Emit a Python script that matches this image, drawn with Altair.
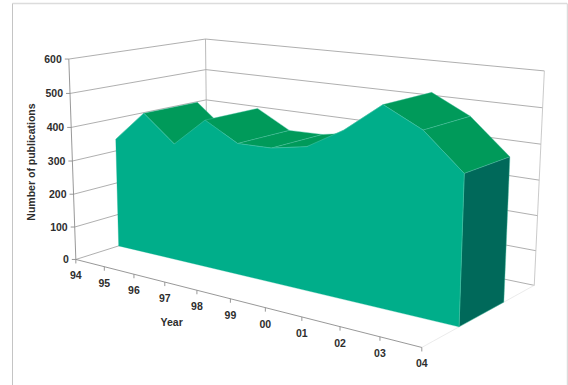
import altair as alt
import numpy as np
import pandas as pd

# Chart values
years = ["94", "95", "96", "97", "98", "99", "00", "01", "02", "03", "04"]
publications = [336, 429, 351, 435, 382, 384, 403, 462, 542, 490, 396]
value_ticks = [0, 100, 200, 300, 400, 500, 600]

# Colours
FRONT = "#00ae8a"
TOP = "#009a5a"
SIDE = "#00695a"
EDGE = "#4fc4a6"
TEXT = "#2e2e2e"

# Perspective camera: (year position, depth, value share) -> screen position
CAMERA = np.array([
    [2.64767274e+02, 1.57697991e+02, -9.42357629e+00, 7.58404742e+01],
    [2.10893371e+01, -1.44256963e+01, -2.02457906e+02, 2.59463629e+02],
    [-1.92508795e-01, 1.25212951e-01, -3.46164752e-02, 1.0],
])
DEPTH_FRONT = 0.3
DEPTH_BACK = 0.7
VALUE_MAX = 600
W, H = 568, 385


def project(u, depth, value):
    h = CAMERA @ np.array([u, depth, value / VALUE_MAX, 1.0])
    return float(h[0] / h[2]), float(h[1] / h[2])


n = len(years)
us = [i / (n - 1) for i in range(n)]

x_scale = alt.Scale(domain=[0, W], range=[0, W], nice=False, zero=False)
y_scale = alt.Scale(domain=[0, H], range=[0, H], nice=False, zero=False)
X = alt.X("x:Q", scale=x_scale, axis=None)
Y = alt.Y("y:Q", scale=y_scale, axis=None)


def segments(pairs):
    rows = [{"x": a[0], "y": a[1], "x2": b[0], "y2": b[1]} for a, b in pairs]
    return pd.DataFrame(rows)


def rules(pairs, color, width=1.0):
    return (
        alt.Chart(segments(pairs))
        .mark_rule(color=color, strokeWidth=width)
        .encode(x=X, y=Y, x2="x2:Q", y2="y2:Q")
    )


def polygons(polys, fill, stroke=EDGE, width=0.4):
    rows = []
    for k, poly in enumerate(polys):
        for i, (px, py) in enumerate(poly + poly[:1]):
            rows.append({"poly": k, "i": i, "x": px, "y": py})
    return (
        alt.Chart(pd.DataFrame(rows))
        .mark_line(fill=fill, stroke=stroke, strokeWidth=width, interpolate="linear")
        .encode(x=X, y=Y, detail="poly:N", order="i:Q")
    )


# Chart frame
frame = (
    rules([((12.5, 3.5), (567, 3.5))], "#dcdcdc", 1.6)
    + rules([((12.5, 3.5), (12.5, 385))], "#c4c4c4", 1.0)
    + rules([((567.3, 3.5), (567.3, 385))], "#d4d4d4", 1.0)
)

# Walls and gridlines
grid_pairs = []
for v in value_ticks:
    grid_pairs.append((project(0, 0, v), project(0, 1, v)))
    grid_pairs.append((project(0, 1, v), project(1, 1, v)))
grid = rules(grid_pairs, "#9a9a9a", 0.8)

back_corner = rules([(project(0, 1, 0), project(0, 1, VALUE_MAX))], "#a8a8a8", 0.8)
right_edge = rules([(project(1, 1, 0), project(1, 1, VALUE_MAX))], "#bdbdbd", 0.8)
floor_lines = rules([(project(1, 0, 0), project(1, 1, 0))], "#e2e2e2", 0.7)
value_axis = rules([(project(0, 0, 0), project(0, 0, VALUE_MAX))], "#8c8c8c", 0.9)
year_axis = rules([(project(0, 0, 0), project(1, 0, 0))], "#8c8c8c", 0.9)

# Tick marks
value_tick_pairs = []
for v in value_ticks:
    px, py = project(0, 0, v)
    value_tick_pairs.append(((px - 4, py), (px, py)))
year_tick_pairs = []
for u in us:
    px, py = project(u, 0, 0)
    year_tick_pairs.append(((px, py), (px, py + 4)))
ticks = rules(value_tick_pairs + year_tick_pairs, "#8c8c8c", 0.9)

# Top surface of the slab, only the strips that face the camera
strips = []
for i in range(n - 1):
    a = project(us[i], DEPTH_FRONT, publications[i])
    b = project(us[i + 1], DEPTH_FRONT, publications[i + 1])
    c = project(us[i + 1], DEPTH_BACK, publications[i + 1])
    d = project(us[i], DEPTH_BACK, publications[i])
    turn = (b[0] - a[0]) * (d[1] - a[1]) - (b[1] - a[1]) * (d[0] - a[0])
    if turn < 0:
        strips.append([a, b, c, d])
top = polygons(strips, TOP)

# End face for the last year
side = polygons(
    [[
        project(1, DEPTH_FRONT, publications[-1]),
        project(1, DEPTH_BACK, publications[-1]),
        project(1, DEPTH_BACK, 0),
        project(1, DEPTH_FRONT, 0),
    ]],
    SIDE,
)

# Front face of the slab
profile = [project(u, DEPTH_FRONT, p) for u, p in zip(us, publications)]
front = polygons(
    [profile + [project(1, DEPTH_FRONT, 0), project(0, DEPTH_FRONT, 0)]],
    FRONT,
    stroke=FRONT,
    width=0.3,
)
front_edge = rules(
    list(zip(profile[:-1], profile[1:])) + [(profile[-1], project(1, DEPTH_FRONT, 0))],
    EDGE,
    0.5,
)

# Tick labels and axis titles
label_style = dict(font="Liberation Sans", fontWeight="bold", fontSize=10.5, color=TEXT)

value_labels = pd.DataFrame(
    [{"x": project(0, 0, v)[0], "y": project(0, 0, v)[1], "t": str(v)} for v in value_ticks]
)
value_text = (
    alt.Chart(value_labels)
    .mark_text(align="right", baseline="middle", dx=-7, dy=1, **label_style)
    .encode(x=X, y=Y, text="t:N")
)
year_labels = pd.DataFrame(
    [{"x": project(u, 0, 0)[0], "y": project(u, 0, 0)[1], "t": t} for u, t in zip(us, years)]
)
year_text = (
    alt.Chart(year_labels)
    .mark_text(align="center", baseline="middle", dy=17, **label_style)
    .encode(x=X, y=Y, text="t:N")
)
year_title = (
    alt.Chart(pd.DataFrame({"t": ["Year"]}))
    .mark_text(align="center", baseline="middle", **label_style)
    .encode(x=alt.value(171.7), y=alt.value(322.5), text="t:N")
)
value_title = (
    alt.Chart(pd.DataFrame({"t": ["Number of publications"]}))
    .mark_text(align="center", baseline="middle", angle=270, **label_style)
    .encode(x=alt.value(31.5), y=alt.value(162), text="t:N")
)

chart = (
    alt.layer(
        frame, grid, back_corner, right_edge, floor_lines, value_axis, year_axis, ticks,
        top, side, front, front_edge,
        value_text, year_text, year_title, value_title,
    )
    .properties(
        width=W,
        height=H,
        padding=0,
        autosize=alt.AutoSizeParams(type="none"),
        background="white",
    )
    .configure_view(stroke=None)
)

chart.save("out.html", embed_options={"renderer": "svg", "actions": False})
